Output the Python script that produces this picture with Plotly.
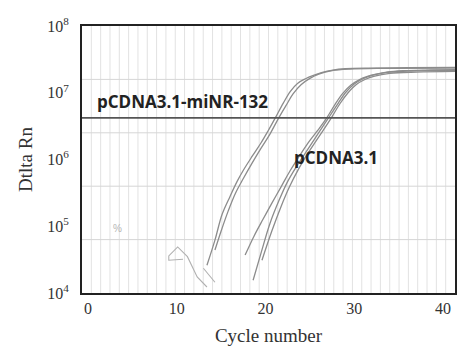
import plotly.graph_objects as go

# ---- data ----
a1_x = [13.4, 14.3, 15.1, 16.0, 16.8, 17.5, 18.5, 19.5, 20.3, 21.1, 22.0, 22.8, 23.6, 24.5, 25.4, 26.3, 27.6, 29.0, 32.0, 36.0, 41.4]
a1_y = [2.6e4, 6.2e4, 1.5e5, 2.8e5, 4.7e5, 6.9e5, 1.12e6, 1.78e6, 2.7e6, 4.2e6, 7.0e6, 1.05e7, 1.38e7, 1.62e7, 1.82e7, 2.0e7, 2.19e7, 2.29e7, 2.34e7, 2.37e7, 2.4e7]
a2_x = [14.3, 15.0, 15.8, 16.6, 17.5, 18.5, 19.5, 20.5, 21.4, 22.3, 23.1, 24.0, 25.0, 26.0, 27.5, 29.5, 33.0, 41.4]
a2_y = [4.4e4, 8.5e4, 1.7e5, 3.1e5, 5.2e5, 8.9e5, 1.48e6, 2.4e6, 4.0e6, 6.4e6, 9.6e6, 1.32e7, 1.64e7, 1.9e7, 2.14e7, 2.26e7, 2.32e7, 2.34e7]
b1_x = [17.7, 18.7, 19.7, 20.7, 21.8, 22.8, 23.8, 24.8, 25.9, 26.9, 27.8, 28.7, 29.6, 30.5, 31.4, 32.5, 33.7, 35.5, 38.0, 41.4]
b1_y = [3.7e4, 7.1e4, 1.26e5, 2.2e5, 4.0e5, 6.9e5, 1.12e6, 1.78e6, 2.75e6, 4.2e6, 6.6e6, 9.8e6, 1.3e7, 1.55e7, 1.74e7, 1.9e7, 2.04e7, 2.14e7, 2.19e7, 2.21e7]
b2_x = [18.6, 19.5, 20.5, 21.5, 22.5, 23.5, 24.5, 25.5, 26.5, 27.3, 28.2, 29.0, 30.0, 31.0, 32.0, 33.5, 35.5, 38.0, 41.4]
b2_y = [1.55e4, 4.0e4, 1.1e5, 2.4e5, 4.7e5, 7.9e5, 1.26e6, 2.0e6, 3.2e6, 4.6e6, 7.0e6, 1.0e7, 1.35e7, 1.62e7, 1.82e7, 2.0e7, 2.09e7, 2.14e7, 2.16e7]
b3_x = [19.6, 20.7, 21.7, 22.7, 23.7, 24.7, 25.7, 26.7, 27.5, 28.4, 29.3, 30.2, 31.2, 32.3, 34.0, 37.0, 41.4]
b3_y = [3.1e4, 8.4e4, 1.9e5, 3.9e5, 7.1e5, 1.2e6, 1.9e6, 3.0e6, 4.4e6, 6.9e6, 1.0e7, 1.32e7, 1.58e7, 1.78e7, 1.95e7, 2.04e7, 2.09e7]
n1_x = [10.7, 9.1, 9.1, 10.1, 11.2, 12.3, 13.4]
n1_y = [3.2e4, 3.1e4, 3.6e4, 4.9e4, 3.5e4, 1.74e4, 1.23e4]
n2_x = [13.0, 14.3]
n2_y = [2.35e4, 1.45e4]
threshold = 4.2e6

x_ticks = [0, 10, 20, 30, 40]
y_ticks = [1e4, 1e5, 1e6, 1e7, 1e8]
y_tick_text = ["10<sup>4</sup>", "10<sup>5</sup>", "10<sup>6</sup>", "10<sup>7</sup>", "10<sup>8</sup>"]

curve_color = "#8c8c8c"

fig = go.Figure()
for xs, ys in [(a1_x, a1_y), (a2_x, a2_y), (b1_x, b1_y), (b2_x, b2_y), (b3_x, b3_y)]:
    fig.add_trace(go.Scatter(x=xs, y=ys, mode="lines", line=dict(color=curve_color, width=1.3, shape="spline", smoothing=1.0), showlegend=False, hoverinfo="skip"))
for xs, ys in [(n1_x, n1_y), (n2_x, n2_y)]:
    fig.add_trace(go.Scatter(x=xs, y=ys, mode="lines", line=dict(color="#b0b0b0", width=1.1), showlegend=False, hoverinfo="skip"))

shapes = []
# vertical light grid (40 divisions)
for i in range(1, 40):
    shapes.append(dict(type="line", xref="x domain", yref="y domain", x0=i/40, x1=i/40, y0=0, y1=1,
                       line=dict(color="#e2e2e2", width=1), layer="below"))
# horizontal grid (5 divisions)
for i in range(1, 5):
    shapes.append(dict(type="line", xref="x domain", yref="y domain", x0=0, x1=1, y0=i/5, y1=i/5,
                       line=dict(color="#d6d6d6", width=1), layer="below"))
# threshold
shapes.append(dict(type="line", xref="x domain", yref="y", x0=0, x1=1, y0=threshold, y1=threshold,
                   line=dict(color="#555555", width=1.6)))

fig.update_layout(
    width=457, height=349,
    margin=dict(l=82, r=2, t=26, b=56),
    paper_bgcolor="white", plot_bgcolor="white",
    shapes=shapes,
    font=dict(family="Liberation Serif, Times New Roman, serif", color="#333333"),
    xaxis=dict(range=[-0.68, 41.35], tickvals=x_ticks, ticks="", showgrid=False, zeroline=False, automargin=False,
               showline=True, linecolor="#222222", linewidth=2, mirror=True,
               tickfont=dict(size=16, family="Liberation Serif, serif", color="#333333"),
               title=dict(text="Cycle number", font=dict(size=19, family="Liberation Serif, serif", color="#333333"), standoff=12)),
    yaxis=dict(type="log", range=[4, 8], tickvals=y_ticks, ticktext=y_tick_text, ticks="", showgrid=False, zeroline=False, automargin=False,
               showline=True, linecolor="#222222", linewidth=2, mirror=True, ticklabelstandoff=8,
               tickfont=dict(size=16, family="Liberation Serif, serif", color="#333333"),
               title=dict(text="Dtlta Rn", font=dict(size=19, family="Liberation Serif, serif", color="#333333"), standoff=10)),
    annotations=[
        dict(x=10.65, y=6.87, xref="x", yref="y", text="<b>pCDNA3.1-miNR-132</b>", showarrow=False,
             font=dict(size=17, family="Open Sans, sans-serif", color="#222222")),
        dict(x=27.9, y=6.03, xref="x", yref="y", text="<b>pCDNA3.1</b>", showarrow=False,
             font=dict(size=17, family="Open Sans, sans-serif", color="#222222")),
        dict(x=3.3, y=4.97, xref="x", yref="y", text="%", showarrow=False,
             font=dict(size=10, family="Liberation Sans, sans-serif", color="#b5b5b5")),
    ],
)
fig.write_html("out.html", config={"displayModeBar": False}, post_script="document.body.style.margin='0';")
